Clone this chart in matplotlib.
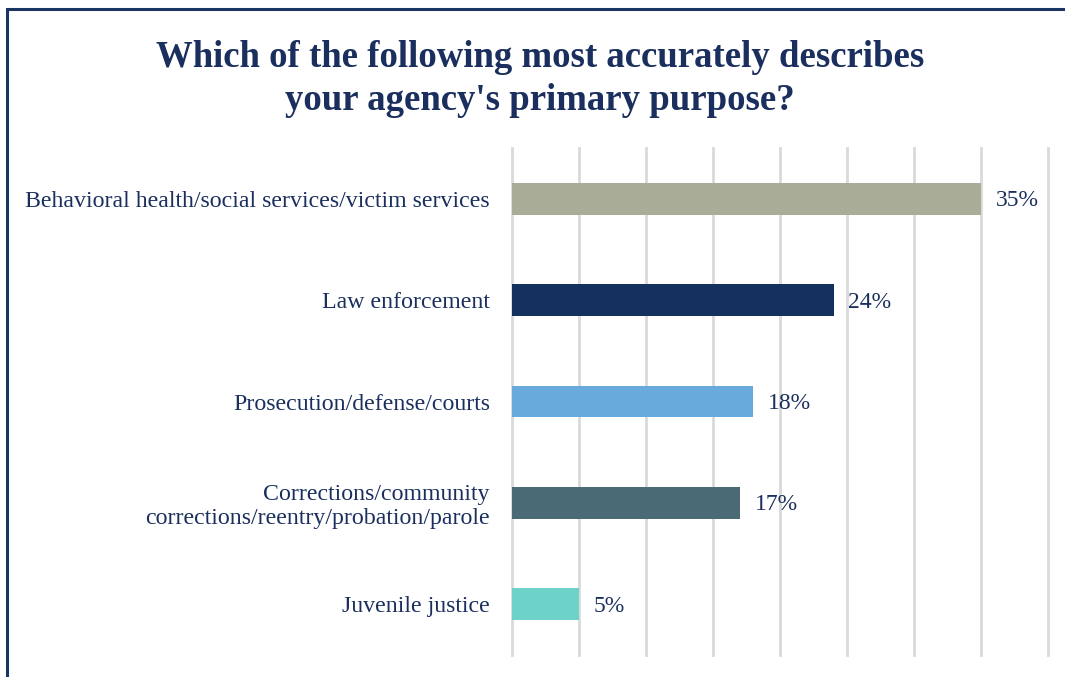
"""Agency primary purpose: horizontal bar chart."""
import matplotlib.pyplot as plt
from matplotlib.patches import Rectangle

categories = [
    "Behavioral health/social services/victim services",
    "Law enforcement",
    "Prosecution/defense/courts",
    "Corrections/community\ncorrections/reentry/probation/parole",
    "Juvenile justice",
]
values = [35, 24, 18, 17, 5]
colors = ["#a9ac96", "#13305f", "#68aadc", "#4a6b75", "#6dd3c8"]

NAVY = "#1a2f5e"
plt.rcParams["font.family"] = ["Liberation Serif", "DejaVu Serif"]

fig = plt.figure(figsize=(10.65, 6.77), dpi=100)
ax = fig.add_axes([512 / 1065, 1 - 655 / 677, 536 / 1065, 507 / 677])

ypos = list(range(len(categories)))
ax.barh(ypos, values, height=0.315, color=colors, zorder=3)
for y, v in zip(ypos, values):
    ax.text(v + 1.1, y + 0.02, f"{v}%", va="center", ha="left",
            fontsize=17, color=NAVY)

ax.set_xlim(0, 40)
ax.set_ylim(len(categories) - 0.5, -0.5)
ax.set_xticks(range(0, 41, 5))
ax.set_xticklabels([])
ax.set_yticks(ypos)
ax.set_yticklabels(categories, fontsize=17.2, color=NAVY, linespacing=1.15)
ax.tick_params(axis="both", length=0, pad=16)
ax.grid(axis="x", color="#d9d9d9", lw=2, zorder=0)
for line in ax.get_xgridlines():
    line.set_clip_on(False)
for s in ax.spines.values():
    s.set_visible(False)

fig.text(540 / 1065, 1 - 79 / 677,
         "Which of the following most accurately describes\n"
         "your agency's primary purpose?",
         ha="center", va="center", fontsize=26.5, fontweight="bold",
         color=NAVY, linespacing=1.28)

# frame, cropped on the right and bottom like the source
fig.add_artist(Rectangle((7 / 1065, -0.1), 1.2, 1 - 9 / 677 + 0.1,
                         transform=fig.transFigure, fill=False,
                         ec="#1a3563", lw=2.2))

fig.savefig("out.png", dpi=100)
